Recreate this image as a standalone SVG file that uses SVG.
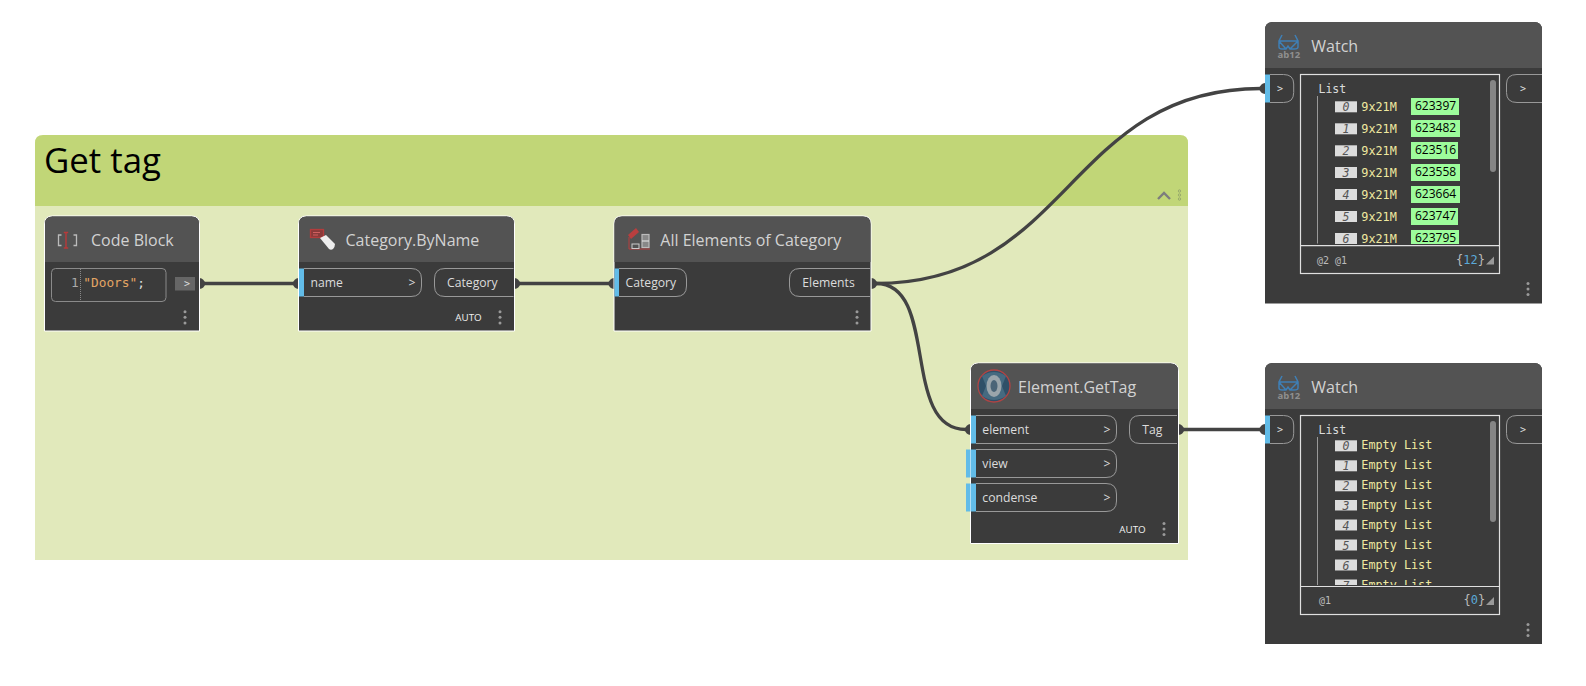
<svg xmlns="http://www.w3.org/2000/svg" width="1586" height="686" viewBox="0 0 1586 686">
<style>
.body{fill:#3b3b3b;stroke:#fff;stroke-width:1}
.head{fill:#535353}
.title{font:16px "Open Sans",sans-serif;fill:#d2d2d2}
.lbl{font:12.2px "Open Sans",sans-serif;fill:#dcdcdc}
.gt{font:11.5px "DejaVu Sans Mono",monospace;fill:#dcdcdc}
.auto{font:9.8px "Open Sans",sans-serif;fill:#f0f0f0}
.pill{fill:none;stroke:#999;stroke-width:1}
.blue{fill:#62bce8}
.dot{fill:#9a9a9a}
.wire{fill:none;stroke:#434343;stroke-width:3.3}
.blob{fill:#434343}
.box{fill:none;stroke:#e0e0e0;stroke-width:1.2}
.tree{stroke:#999;stroke-width:1}
.idx{fill:#dcdcdc}
.idt{font:italic 11.5px "DejaVu Sans Mono",monospace;fill:#555;text-anchor:middle}
.val{font:11.8px "DejaVu Sans Mono",monospace;fill:#efe9a0}
.grn{fill:#9dfc9b}
.num{font:12px "Open Sans",sans-serif;fill:#000}
.sb{fill:#858585}
.lev{font:10px "DejaVu Sans Mono",monospace;fill:#bbb}
.cnt{font:12px "DejaVu Sans Mono",monospace;fill:#bbb}
.cb{fill:#5aa9d8}
.tri{fill:#999}
.gl{font:10px "DejaVu Sans Mono",monospace;fill:#ddd}
</style>
<defs>
<g id="dots"><circle cx="0" cy="-5.6" r="1.5" class="dot"/><circle cx="0" cy="0" r="1.5" class="dot"/><circle cx="0" cy="5.600" r="1.500" class="dot"/></g>
<path id="outb" class="blob" d="M0,-5.500 C3,-5.500 5,-3 6,0 C5,3 3,5.500 0,5.500Z"/>
<path id="inb" class="blob" d="M0,-5.500 C-3,-5.500 -5,-3 -6,0 C-5,3 -3,5.500 0,5.500Z"/>
<clipPath id="c1"><rect x="1301" y="75" width="198" height="169"/></clipPath>
<clipPath id="c2"><rect x="1301" y="416" width="198" height="169"/></clipPath>
<g id="wicon">
<path d="M1282,35 L1279,41 V47 Q1279,49 1282,49 H1286 L1288,46 L1290,49 H1294 Q1298,49 1298,47 V41 L1295,35 M1279,41 H1298 M1279,41 L1286,49 M1298,41 L1290,49" fill="none" stroke="#3f7fb5" stroke-width="1.500"/>
<text x="1277.500" y="58" style="font:bold 9.5px 'Open Sans',sans-serif;fill:#8f8f8f">ab12</text>
</g>
</defs>

<g id="group-get-tag">
<path d="M35,206 V143 Q35,135 43,135 H1180 Q1188,135 1188,143 V206Z" fill="#c1d677"/>
<rect x="35" y="206" width="1153" height="354" fill="#e1e9bb"/>
<text x="44" y="173" style="font:34.8px 'Open Sans',sans-serif;fill:#000">Get tag</text>
<path d="M1158,199 L1164,193 L1170,199" fill="none" stroke="#7d7d7d" stroke-width="2.400"/>
<g fill="none" stroke="#8f9f6a" stroke-width=".8"><circle cx="1179.500" cy="191" r="1.200"/><circle cx="1179.500" cy="195" r="1.200"/><circle cx="1179.500" cy="199" r="1.200"/></g>
</g>

<g id="connectors">
<path class="wire" d="M204,283.500 H295"/>
<path class="wire" d="M519,283.500 H610"/>
<path class="wire" d="M876,283.500 C1070,283.500 1068,88.500 1261,88.500"/>
<path class="wire" d="M876,283.500 C940,283.500 900,429.500 966,429.500"/>
<path class="wire" d="M1183,429.500 H1261"/>
<use href="#outb" x="199.500" y="283.500"/><use href="#inb" x="298.500" y="283.500"/>
<use href="#outb" x="514.500" y="283.500"/><use href="#inb" x="614" y="283.500"/>
<use href="#outb" x="871.500" y="283.500"/><use href="#inb" x="970.500" y="429.500"/>
<use href="#outb" x="1178.500" y="429.500"/><use href="#inb" x="1265" y="88.500"/><use href="#inb" x="1265" y="429.500"/>
</g>

<g id="node-code-block">
<path class="body" d="M44.500,224 Q44.500,216 52.500,216 H191.500 Q199.500,216 199.500,224 V331 H44.500Z"/>
<path class="head" d="M45,224 Q45,216.500 52.500,216.500 H191.500 Q199,216.500 199,224 V262 H45Z"/>
<path d="M61.500,235 H58.500 V245.500 H61.500 M73.500,235 H76.500 V245.500 H73.500" fill="none" stroke="#bbb" stroke-width="1.300"/>
<path d="M66,232.500 V248 M63.800,232.500 H68.200 M63.800,248 H68.200" stroke="#b93a3a" stroke-width="1.400" fill="none"/>
<text x="91" y="245.700" class="title">Code Block</text>
<rect x="51.500" y="268.500" width="114.500" height="33" rx="4" fill="none" stroke="#8a8a8a"/>
<text x="71" y="287" style="font:12.800px 'DejaVu Sans Mono',monospace;fill:#aaa">1</text>
<path d="M80.500,269 V301" stroke="#888" stroke-dasharray="1 1"/>
<text x="83.300" y="287" style="font:12.800px 'DejaVu Sans Mono',monospace;fill:#e3a564">"Doors"<tspan fill="#ddd">;</tspan></text>
<rect x="175" y="277" width="20" height="13.500" fill="#666"/>
<text x="184" y="287" class="gl">&gt;</text>
<use href="#dots" x="185" y="317.300"/>
</g>

<g id="node-category-byname">
<path class="body" d="M298.500,224 Q298.500,216 306.500,216 H506.500 Q514.500,216 514.500,224 V331 H298.500Z"/>
<path class="head" d="M299,224 Q299,216.500 306.500,216.500 H506.500 Q514,216.500 514,224 V262 H299Z"/>
<rect x="310.500" y="229.500" width="13" height="8" fill="#8a3a3a" stroke="#b33c3c" stroke-width="1.300"/>
<path d="M313,232.500 H320 M313,235 H318" stroke="#d06060"/>
<path d="M320,238 L326,235 L335,244 Q335,247 333,249 Q331,250.500 329,249Z" fill="#eee"/>
<text x="345.500" y="245.700" class="title">Category.ByName</text>
<path class="pill" d="M304,268.500 H411 Q421.500,268.500 421.500,279 V286 Q421.500,296.500 411,296.500 H304"/>
<rect class="blue" x="299" y="268.500" width="5" height="28"/>
<text x="310.500" y="287" class="lbl">name</text>
<text x="408.500" y="287" class="lbl">&gt;</text>
<path class="pill" d="M513.500,268.500 H445 Q434.500,268.500 434.500,279 V286 Q434.500,296.500 445,296.500 H513.500"/>
<text x="447" y="287" class="lbl">Category</text>
<text x="455.300" y="321.300" class="auto">AUTO</text>
<use href="#dots" x="500" y="317.300"/>
</g>

<g id="node-all-elements">
<path class="body" d="M614,224 Q614,216 622,216 H863 Q871,216 871,224 V331 H614Z"/>
<path class="head" d="M614.500,224 Q614.500,216.500 622,216.500 H863 Q870.500,216.500 870.500,224 V262 H614.500Z"/>
<path d="M628,235 L636,228 L639,232 L631,239Z" fill="#b93f3f"/>
<path d="M629,237 V249 H650" stroke="#b93f3f" fill="none"/>
<rect x="642" y="234.500" width="7" height="13" fill="#888" stroke="#bbb" stroke-width="1.200"/>
<path d="M642,241 H649" stroke="#ddd" stroke-width="1.200"/>
<rect x="632" y="244" width="7" height="4.500" fill="none" stroke="#ccc"/>
<text x="660.300" y="245.700" class="title">All Elements of Category</text>
<path class="pill" d="M619,268.500 H676 Q686.500,268.500 686.500,279 V286 Q686.500,296.500 676,296.500 H619"/>
<rect class="blue" x="614.500" y="268.500" width="4.500" height="28"/>
<text x="625.500" y="287" class="lbl">Category</text>
<path class="pill" d="M870,268.500 H800 Q789.500,268.500 789.500,279 V286 Q789.500,296.500 800,296.500 H870"/>
<text x="802.300" y="287" class="lbl">Elements</text>
<use href="#dots" x="857" y="317.300"/>
</g>

<g id="node-element-gettag">
<path class="body" d="M970.500,371 Q970.500,363 978.500,363 H1170.500 Q1178.500,363 1178.500,371 V543.500 H970.500Z"/>
<path class="head" d="M971,371 Q971,363.500 978.500,363.500 H1170.500 Q1178,363.500 1178,371 V409 H971Z"/>
<circle cx="994" cy="386" r="16" fill="#2f5068" stroke="#b04444" stroke-width="1.300"/>
<path d="M982,376 Q994,368 1006,376 L1002,386 L1006,396 Q994,404 982,396 L986,386Z" fill="#466a80"/>
<ellipse cx="994" cy="386" rx="7.500" ry="11" fill="#9aa5ab"/>
<ellipse cx="994" cy="386" rx="3.500" ry="6" fill="#4a6477"/>
<text x="1018" y="392.700" class="title">Element.GetTag</text>
<rect class="blue" x="966" y="449.500" width="4.500" height="28"/>
<rect class="blue" x="966" y="483.500" width="4.500" height="28"/>
<path class="pill" d="M976,415.500 H1106 Q1116.500,415.500 1116.500,426 V433 Q1116.500,443.500 1106,443.500 H976"/>
<rect class="blue" x="971" y="415.500" width="5" height="28"/>
<text x="982.300" y="433.500" class="lbl">element</text>
<text x="1103.500" y="433.500" class="lbl">&gt;</text>
<path class="pill" d="M976,449.500 H1106 Q1116.500,449.500 1116.500,460 V467 Q1116.500,477.500 1106,477.500 H976"/>
<rect class="blue" x="971" y="449.500" width="5" height="28"/>
<text x="982.300" y="467.500" class="lbl">view</text>
<text x="1103.500" y="467.500" class="lbl">&gt;</text>
<path class="pill" d="M976,483.500 H1106 Q1116.500,483.500 1116.500,494 V501 Q1116.500,511.500 1106,511.500 H976"/>
<rect class="blue" x="971" y="483.500" width="5" height="28"/>
<text x="982.300" y="501.500" class="lbl">condense</text>
<text x="1103.500" y="501.500" class="lbl">&gt;</text>
<path class="pill" d="M1177,415.500 H1140 Q1129.500,415.500 1129.500,426 V433 Q1129.500,443.500 1140,443.500 H1177"/>
<text x="1142.300" y="433.500" class="lbl">Tag</text>
<text x="1119.300" y="533.300" class="auto">AUTO</text>
<use href="#dots" x="1164" y="529"/>
</g>

<g id="node-watch-1">
<path fill="#3b3b3b" d="M1265,30 Q1265,22 1273,22 H1534 Q1542,22 1542,30 V303.500 H1265Z"/>
<path class="head" d="M1265,30 Q1265,22 1273,22 H1534 Q1542,22 1542,30 V68 H1265Z"/>
<use href="#wicon"/>
<text x="1311.300" y="51.700" class="title">Watch</text>
<path class="pill" d="M1270,74.500 H1283.500 Q1293.700,74.500 1293.700,84 V92.500 Q1293.700,102.500 1283.500,102.500 H1270"/>
<rect class="blue" x="1265" y="74.500" width="5" height="28"/>
<text x="1277" y="92" class="gl">&gt;</text>
<path class="pill" d="M1542,74.500 H1517 Q1506.500,74.500 1506.500,84 V92.500 Q1506.500,102.500 1517,102.500 H1542"/>
<text x="1520" y="92" class="gl">&gt;</text>
<rect class="box" x="1300.500" y="74.500" width="199" height="199"/>
<path class="box" d="M1300.500,245.700 H1499.500"/>
<text x="1318.500" y="92.700" class="gt">List</text>
<path class="tree" d="M1317.500,96 V243.500"/>
<g clip-path="url(#c1)">
<rect class="idx" x="1335" y="101.300" width="22" height="11"/><text class="idt" x="1346" y="111">0</text><text class="val" x="1361.300" y="110.700">9x21M</text><rect class="grn" x="1411" y="98" width="48" height="17"/><text class="num" x="1415" y="110">623397</text>
<rect class="idx" x="1335" y="123.300" width="22" height="11"/><text class="idt" x="1346" y="133">1</text><text class="val" x="1361.300" y="132.700">9x21M</text><rect class="grn" x="1411" y="120" width="49" height="17"/><text class="num" x="1415" y="132">623482</text>
<rect class="idx" x="1335" y="145.300" width="22" height="11"/><text class="idt" x="1346" y="155">2</text><text class="val" x="1361.300" y="154.700">9x21M</text><rect class="grn" x="1411" y="142" width="47" height="17"/><text class="num" x="1415" y="154">623516</text>
<rect class="idx" x="1335" y="167" width="22" height="11"/><text class="idt" x="1346" y="177">3</text><text class="val" x="1361.300" y="176.500">9x21M</text><rect class="grn" x="1411" y="164" width="49" height="17"/><text class="num" x="1415" y="176">623558</text>
<rect class="idx" x="1335" y="189" width="22" height="11"/><text class="idt" x="1346" y="199">4</text><text class="val" x="1361.300" y="198.500">9x21M</text><rect class="grn" x="1411" y="186" width="49" height="17"/><text class="num" x="1415" y="198">623664</text>
<rect class="idx" x="1335" y="211" width="22" height="11"/><text class="idt" x="1346" y="221">5</text><text class="val" x="1361.300" y="220.500">9x21M</text><rect class="grn" x="1411" y="208" width="47" height="17"/><text class="num" x="1415" y="220">623747</text>
<rect class="idx" x="1335" y="233" width="22" height="11"/><text class="idt" x="1346" y="243">6</text><text class="val" x="1361.300" y="242.500">9x21M</text><rect class="grn" x="1411" y="230" width="48" height="17"/><text class="num" x="1415" y="242">623795</text>
</g>
<rect class="sb" x="1490" y="80" width="6" height="92" rx="3"/>
<text x="1317" y="263.500" class="lev">@2 @1</text>
<text x="1456" y="263.500" class="cnt">{<tspan class="cb">12</tspan>}</text>
<path class="tri" d="M1494,256.500 V264.500 H1486Z"/>
<use href="#dots" x="1528" y="289"/>
</g>

<g id="node-watch-2">
<path fill="#3b3b3b" d="M1265,371 Q1265,363 1273,363 H1534 Q1542,363 1542,371 V644 H1265Z"/>
<path class="head" d="M1265,371 Q1265,363 1273,363 H1534 Q1542,363 1542,371 V409 H1265Z"/>
<use href="#wicon" y="341"/>
<text x="1311.300" y="392.700" class="title">Watch</text>
<path class="pill" d="M1270,415.500 H1283.500 Q1293.700,415.500 1293.700,425 V433.500 Q1293.700,443.500 1283.500,443.500 H1270"/>
<rect class="blue" x="1265" y="415.500" width="5" height="28"/>
<text x="1277" y="433" class="gl">&gt;</text>
<path class="pill" d="M1542,415.500 H1517 Q1506.500,415.500 1506.500,425 V433.500 Q1506.500,443.500 1517,443.500 H1542"/>
<text x="1520" y="433" class="gl">&gt;</text>
<rect class="box" x="1300.500" y="415.500" width="199" height="199"/>
<path class="box" d="M1300.500,586.500 H1499.500"/>
<text x="1318.500" y="433.700" class="gt">List</text>
<path class="tree" d="M1317.500,437 V585"/>
<g clip-path="url(#c2)">
<rect class="idx" x="1335" y="440.300" width="22" height="11"/><text class="idt" x="1346" y="450">0</text><text class="val" x="1361.300" y="449.300">Empty List</text>
<rect class="idx" x="1335" y="460.300" width="22" height="11"/><text class="idt" x="1346" y="470">1</text><text class="val" x="1361.300" y="469.300">Empty List</text>
<rect class="idx" x="1335" y="480.300" width="22" height="11"/><text class="idt" x="1346" y="490">2</text><text class="val" x="1361.300" y="489.300">Empty List</text>
<rect class="idx" x="1335" y="500" width="22" height="10.500"/><text class="idt" x="1346" y="509.500">3</text><text class="val" x="1361.300" y="509">Empty List</text>
<rect class="idx" x="1335" y="519.500" width="22" height="11"/><text class="idt" x="1346" y="529.500">4</text><text class="val" x="1361.300" y="529">Empty List</text>
<rect class="idx" x="1335" y="539.500" width="22" height="11"/><text class="idt" x="1346" y="549.500">5</text><text class="val" x="1361.300" y="549">Empty List</text>
<rect class="idx" x="1335" y="559.500" width="22" height="11"/><text class="idt" x="1346" y="569.500">6</text><text class="val" x="1361.300" y="569">Empty List</text>
<rect class="idx" x="1335" y="579.500" width="22" height="11"/><text class="idt" x="1346" y="589.500">7</text><text class="val" x="1361.300" y="589">Empty List</text>
</g>
<rect class="sb" x="1490" y="421" width="6" height="101" rx="3"/>
<text x="1319" y="604" class="lev">@1</text>
<text x="1463.500" y="604" class="cnt">{<tspan class="cb">0</tspan>}</text>
<path class="tri" d="M1494,597 V605 H1486Z"/>
<use href="#dots" x="1528" y="630"/>
</g>
</svg>
